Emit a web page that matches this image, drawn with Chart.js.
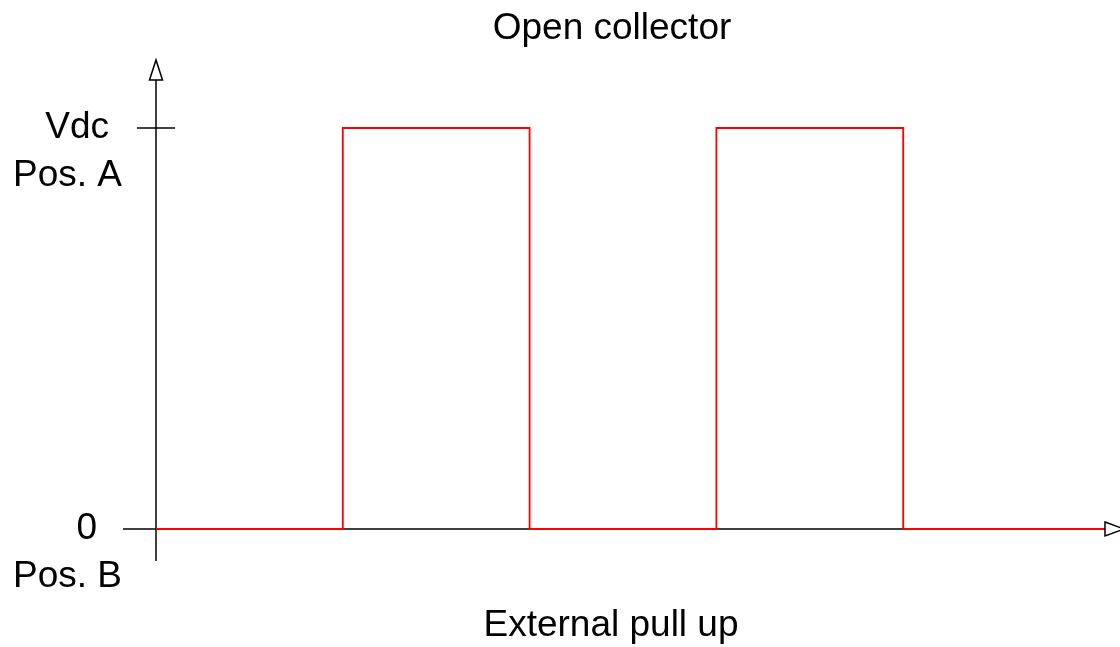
<!DOCTYPE html>
<html>
<head>
<meta charset="utf-8">
<script src="https://cdn.jsdelivr.net/npm/chart.js@4"></script>
<style>
html,body{margin:0;padding:0;background:#fff;}
#wrap{width:1120px;height:647px;position:relative;}
</style>
</head>
<body>
<div id="wrap"><canvas id="c" width="1120" height="647"></canvas></div>
<script>
// ---- data ----
const titleText = "Open collector";
const bottomText = "External pull up";
const timePoints = [0, 1, 1, 2, 2, 3, 3, 4, 4, 5.075];
const signalLevels = [0, 0, 1, 1, 0, 0, 1, 1, 0, 0];
const yTickValues = [1, 0];
const yTickMain = ["Vdc", "0"];
const yTickSub = ["Pos. A", "Pos. B"];

const points = timePoints.map((t, i) => ({x: t, y: signalLevels[i]}));
const FONT = '37px "Liberation Sans", Arial, sans-serif';

const axesPlugin = {
  id: 'axesPlugin',
  beforeDatasetsDraw(chart) {
    const ctx = chart.ctx;
    const xs = chart.scales.x, ys = chart.scales.y;
    const x0 = xs.getPixelForValue(0);
    const y0 = ys.getPixelForValue(0);
    const y1 = ys.getPixelForValue(1);
    ctx.save();
    ctx.strokeStyle = '#000';
    ctx.lineWidth = 1.5;
    // x axis
    ctx.beginPath();
    ctx.moveTo(123, y0); ctx.lineTo(1105, y0); ctx.stroke();
    ctx.beginPath();
    ctx.moveTo(1105, y0 - 7); ctx.lineTo(1124, y0); ctx.lineTo(1105, y0 + 7); ctx.closePath(); ctx.stroke();
    // y axis
    ctx.beginPath();
    ctx.moveTo(x0, 561); ctx.lineTo(x0, 80); ctx.stroke();
    ctx.beginPath();
    ctx.moveTo(x0 - 6.5, 80); ctx.lineTo(x0, 60); ctx.lineTo(x0 + 6.5, 80); ctx.closePath(); ctx.stroke();
    // tick at 1
    ctx.beginPath();
    ctx.moveTo(137, y1); ctx.lineTo(175, y1); ctx.stroke();
    ctx.restore();
  },
  afterDraw(chart) {
    const ctx = chart.ctx;
    const ys = chart.scales.y;
    ctx.save();
    ctx.fillStyle = '#000';
    ctx.font = FONT;
    ctx.textBaseline = 'alphabetic';
    ctx.textAlign = 'center';
    ctx.fillText(titleText, 612, 39);
    ctx.fillText(bottomText, 611, 636);
    const mainRight = [109, 97];
    ctx.textAlign = 'right';
    yTickValues.forEach((v, i) => {
      const py = ys.getPixelForValue(v);
      ctx.fillText(yTickMain[i], mainRight[i], py + 9.5);
      ctx.fillText(yTickSub[i], 122, py + 58);
    });
    ctx.restore();
  }
};

new Chart(document.getElementById('c'), {
  type: 'line',
  data: {
    datasets: [{
      data: points,
      borderColor: '#ff0000',
      borderWidth: 1.8,
      pointRadius: 0,
      fill: false,
      tension: 0
    }]
  },
  options: {
    responsive: false,
    animation: false,
    layout: {padding: {left: 156, right: 0, top: 60, bottom: 86}},
    plugins: {legend: {display: false}, tooltip: {enabled: false}, title: {display: false}},
    scales: {
      x: {type: 'linear', display: false, min: 0, max: (1120 - 156) / 186.8},
      y: {type: 'linear', display: false, min: -32 / 401, max: 469 / 401}
    }
  },
  plugins: [axesPlugin]
});
</script>
</body>
</html>
